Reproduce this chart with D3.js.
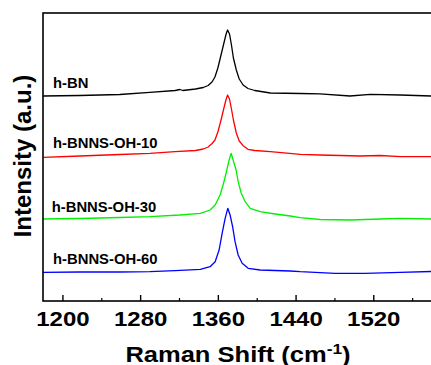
<!DOCTYPE html>
<html>
<head>
<meta charset="utf-8">
<script src="https://cdn.jsdelivr.net/npm/d3@7/dist/d3.min.js"></script>
<style>
  html, body { margin: 0; padding: 0; background: #fff; }
  svg { display: block; }
  text { font-family: "Liberation Sans", Arial, sans-serif; font-weight: bold; fill: #000; }
</style>
</head>
<body>
<svg id="chart" width="431" height="365"></svg>
<script>
// ---- Data ----
const xTicksMajor = [1200, 1280, 1360, 1440, 1520];
const xTicksMinor = [1240, 1320, 1400, 1480, 1560];

const seriesNames = ["h-BN", "h-BNNS-OH-10", "h-BNNS-OH-30", "h-BNNS-OH-60"];
const seriesColors = ["#000000", "#ff0000", "#00f000", "#0000ff"];

const hbnX = [1180,1218,1259,1290,1316,1321,1324,1337,1345,1350,1354,1357,1360,1363,1366,1368.5,1370,1372,1374,1376,1379,1382,1386,1391,1398,1414,1445,1465,1496,1517,1548,1580];
const hbnY = [205,205.5,206.5,208.7,210.5,211.5,210.5,212,213.5,215.5,219,224,233,245,257,267,271,267,256,243,231,222,216,212.5,210.5,208,207.5,207.2,205,206.7,206,205];

const oh10X = [1180,1218,1259,1290,1316,1337,1345,1350,1354,1357,1360,1363,1366,1368,1370,1372,1374,1376,1379,1382,1386,1391,1398,1414,1445,1465,1486,1506,1527,1548,1580];
const oh10Y = [143.7,145,146.5,147.7,149.3,150.5,152,154,157.5,161,169,180,192,200,206,202,192,181,168,160,155.3,151.7,150.5,149.3,146.7,146,145.5,145,145.5,144.3,144.3];

const oh30X = [1180,1218,1259,1290,1321,1342,1352,1357.2,1362.3,1365.4,1368.5,1371.6,1373.7,1375.7,1378.8,1380.9,1384,1388.1,1393.3,1403.6,1419,1434.5,1444.7,1465.3,1496.2,1527.1,1547.7,1580];
const oh30Y = [82,82.5,83.5,84.3,86,87.7,91,96,106,116,128,141,147.7,141,131,119.3,108,99.3,92.7,89.3,87,85,83.3,81.5,81,82,82.7,82];

const oh60X = [1180,1218,1259,1290,1316,1342,1352,1357.2,1361.3,1364.4,1367.5,1370.2,1372.6,1375.2,1377.7,1380.9,1385,1391.2,1403.5,1434.4,1444.7,1480.7,1511.6,1547.7,1580];
const oh60Y = [28.7,29,29,29.3,30.3,31.7,34.3,39.3,51,67.7,82.7,92.7,86,74.3,59.3,46,37.7,32.7,31,30,29.3,27.7,27.7,28.7,29.5];

const labelPos = [[53, 88], [53, 148.3], [51.7, 211.7], [53, 264]];

// ---- Layout ----
const svg = d3.select("#chart");
const mLeft = 43, mTop = 13, mBottom = 301, mRight = 451;

const x = d3.scaleLinear().domain([1180, 1600]).range([mLeft, mRight]);
const y = d3.scaleLinear().domain([0, 288]).range([mBottom, mTop]);

const seriesX = [hbnX, oh10X, oh30X, oh60X];
const seriesY = [hbnY, oh10Y, oh30Y, oh60Y];

const line = d3.line().x(d => x(d[0])).y(d => y(d[1]));

seriesX.forEach((xs, i) => {
  const pts = xs.map((v, j) => [v, seriesY[i][j]]);
  svg.append("path")
    .datum(pts)
    .attr("fill", "none")
    .attr("stroke", seriesColors[i])
    .attr("stroke-width", 1.3)
    .attr("stroke-linejoin", "round")
    .attr("d", line);
});

// Frame
svg.append("rect")
  .attr("x", mLeft).attr("y", mTop)
  .attr("width", mRight - mLeft).attr("height", mBottom - mTop)
  .attr("fill", "none").attr("stroke", "#000").attr("stroke-width", 1.6);

// Major axis
const gMaj = svg.append("g").attr("transform", `translate(0,${mBottom})`)
  .call(d3.axisBottom(x).tickValues(xTicksMajor).tickFormat(d3.format("d"))
        .tickSizeInner(-6).tickSizeOuter(0).tickPadding(11));
gMaj.select(".domain").remove();
gMaj.selectAll("line").attr("stroke", "#000").attr("stroke-width", 1.4);
gMaj.selectAll("text")
  .attr("font-size", 20)
  .attr("font-family", "'Liberation Sans', Arial, sans-serif")
  .attr("font-weight", "bold")
  .attr("transform", "scale(1.2,1)");

// Minor axis
const gMin = svg.append("g").attr("transform", `translate(0,${mBottom})`)
  .call(d3.axisBottom(x).tickValues(xTicksMinor).tickFormat("")
        .tickSizeInner(-3).tickSizeOuter(0));
gMin.select(".domain").remove();
gMin.selectAll("line").attr("stroke", "#000").attr("stroke-width", 1.2);

// Series labels
seriesNames.forEach((name, i) => {
  svg.append("text")
    .attr("transform", `translate(${labelPos[i][0]},${labelPos[i][1]}) scale(1.06,1)`)
    .attr("font-size", 14)
    .text(name);
});

// Y label
svg.append("text")
  .attr("transform", "translate(30.5,156) rotate(-90)")
  .attr("text-anchor", "middle")
  .attr("font-size", 24)
  .text("Intensity (a.u.)");

// X label
const xl = svg.append("text")
  .attr("transform", "translate(238,361.5) scale(1.16,1)")
  .attr("text-anchor", "middle")
  .attr("font-size", 22);
xl.append("tspan").text("Raman Shift (cm");
xl.append("tspan").attr("font-size", 15).attr("dy", -8).text("-1");
xl.append("tspan").attr("dy", 8).text(")");
</script>
</body>
</html>
